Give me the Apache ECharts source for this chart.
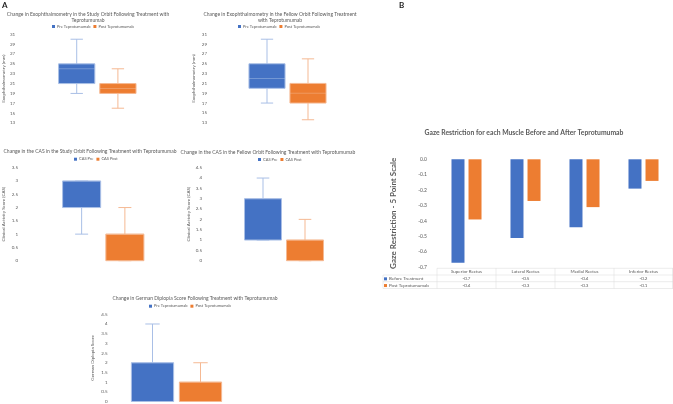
<!DOCTYPE html>
<html><head><meta charset="utf-8">
<script src="https://cdn.jsdelivr.net/npm/echarts@6/dist/echarts.min.js"></script>
<style>html,body{margin:0;padding:0;background:#fff}#c{width:673px;height:404px}</style>
</head><body><div id="c"></div>
<script>
// ---- data (min, q1, median, q3, max) ----
const exoStudyPre = [19, 21, 24, 25, 30];
const exoStudyPost = [16, 19, 20, 21, 24];
const exoFellowPre = [17, 20, 22, 25, 30];
const exoFellowPost = [13.6, 17, 19, 21, 26];
const casStudyPre = [1, 2, 3, 3, 3];
const casStudyPost = [0, 0, 1, 1, 2];
const casFellowPre = [1, 1, 3, 3, 4];
const casFellowPost = [0, 0, 1, 1, 2];
const gdsPre = [0, 0, 2, 2, 4];
const gdsPost = [0, 0, 1, 1, 2];

const muscles = ['Superior Rectus', 'Lateral Rectus', 'Medial Rectus', 'Inferior Rectus'];
const beforeTreatment = [-0.67, -0.51, -0.44, -0.19];
const postTeprotumumab = [-0.39, -0.27, -0.31, -0.14];

const FONT = 'Lato';
const GREY = '#595959';
const BLUE = '#4472C4', ORANGE = '#ED7D31';
const BLUE_L = '#a9bfe6', ORANGE_L = '#f5b993';

const panels = [
  { grid: {left: 52.5, top: 34.3, width: 86, height: 88.7}, y: {min: 13, max: 31, interval: 2},
    axisName: 'Exophthalmometry (mm)', margin: 41, nameGap: 49,
    names: ['Pre Teprotumumab', 'Post Teprotumumab'], data: [exoStudyPre, exoStudyPost],
    title: ['Change in Exophthalmometry in the Study Orbit Following Treatment with', 'Teprotumumab'],
    titleX: 88, titleY: 14, legendLeft: 52, legendY: 27 },
  { grid: {left: 246.5, top: 34.3, width: 82, height: 88.4}, y: {min: 13, max: 31, interval: 2},
    axisName: 'Exophthalmometry (mm)', margin: 39.5, nameGap: 50,
    names: ['Pre Teprotumumab', 'Post Teprotumumab'], data: [exoFellowPre, exoFellowPost],
    title: ['Change in Exophthalmometry in the Fellow Orbit Following Treatment', 'with Teprotumumab'],
    titleX: 280, titleY: 14.5, legendLeft: 238, legendY: 27 },
  { grid: {left: 56.5, top: 167.7, width: 90, height: 93}, y: {min: 0, max: 3.5, interval: 0.5},
    axisName: 'Clinical Activity Score (CAS)', margin: 42, nameGap: 54,
    names: ['CAS Pre', 'CAS Post'], data: [casStudyPre, casStudyPost],
    title: ['Change in the CAS in the Study Orbit Following Treatment with Teprotumumab'],
    titleX: 90, titleY: 151.7, legendLeft: 74, legendY: 159.7 },
  { grid: {left: 242, top: 167.7, width: 84, height: 93}, y: {min: 0, max: 4.5, interval: 0.5},
    axisName: 'Clinical Activity Score (CAS)', margin: 40, nameGap: 51,
    names: ['CAS Pre', 'CAS Post'], data: [casFellowPre, casFellowPost],
    title: ['Change in the CAS in the Fellow Orbit Following Treatment with Teprotumumab'],
    titleX: 268, titleY: 152, legendLeft: 258, legendY: 160 },
  { grid: {left: 128.5, top: 314.3, width: 96, height: 88}, y: {min: 0, max: 4.5, interval: 0.5},
    axisName: 'German Diplopia Score', margin: 21, nameGap: 33,
    names: ['Pre Teprotumumab', 'Post Teprotumumab'], data: [gdsPre, gdsPost],
    title: ['Change in German Diplopia Score Following Treatment with Teprotumumab'],
    titleX: 195, titleY: 298.7, legendLeft: 149, legendY: 306.7 }
];

function boxRender(light) {
  return function (params, api) {
    const c = api.value(0);
    const v = [1, 2, 3, 4, 5].map(i => api.value(i));
    const cw = api.size([1, 0])[0];
    const bw = cw * 0.88, capw = cw * 0.3;
    const p = v.map(val => api.coord([c, val]));
    const x = p[0][0];
    const ls = {stroke: light, lineWidth: 1};
    return {type: 'group', children: [
      {type: 'line', shape: {x1: x, y1: p[3][1], x2: x, y2: p[4][1]}, style: ls},
      {type: 'line', shape: {x1: x, y1: p[1][1], x2: x, y2: p[0][1]}, style: ls},
      {type: 'line', shape: {x1: x - capw / 2, y1: p[4][1], x2: x + capw / 2, y2: p[4][1]}, style: ls},
      {type: 'line', shape: {x1: x - capw / 2, y1: p[0][1], x2: x + capw / 2, y2: p[0][1]}, style: ls},
      {type: 'rect', shape: {x: x - bw / 2, y: p[3][1], width: bw, height: p[1][1] - p[3][1]},
        style: {fill: api.visual('color'), stroke: light, lineWidth: 1}},
      {type: 'line', shape: {x1: x - bw / 2, y1: p[2][1], x2: x + bw / 2, y2: p[2][1]}, style: {stroke: light, lineWidth: 0.8, opacity: 0.6}}
    ]};
  };
}

const grid = [], xAxis = [], yAxis = [], series = [], legend = [], graphic = [];
panels.forEach((pn, i) => {
  grid.push(pn.grid);
  xAxis.push({type: 'category', gridIndex: i, data: pn.names, show: false});
  yAxis.push({type: 'value', gridIndex: i, min: pn.y.min, max: pn.y.max, interval: pn.y.interval,
    splitLine: {show: false}, axisLine: {show: false}, axisTick: {show: false},
    axisLabel: {fontSize: 4.5, color: GREY, margin: pn.margin, fontFamily: FONT},
    name: pn.axisName, nameLocation: 'middle', nameRotate: 90, nameGap: pn.nameGap,
    nameTextStyle: {fontSize: 4.5, color: GREY, fontFamily: FONT}});
  pn.data.forEach((d, k) => {
    series.push({type: 'custom', name: pn.names[k], xAxisIndex: i, yAxisIndex: i,
      itemStyle: {color: k === 0 ? BLUE : ORANGE},
      renderItem: boxRender(k === 0 ? BLUE_L : ORANGE_L),
      data: [[k].concat(d)]});
  });
  legend.push({data: pn.names, left: pn.legendLeft, top: pn.legendY - 2.5, padding: 0,
    itemWidth: 3, itemHeight: 3, itemGap: 3, icon: 'rect',
    textStyle: {fontSize: 4, color: GREY, fontFamily: FONT, padding: [0, 0, 0, -3]}});
  pn.title.forEach((t, j) => {
    graphic.push({type: 'text', x: pn.titleX, y: pn.titleY + j * 6,
      style: {text: t, fontSize: 5, fill: GREY, fontFamily: FONT, align: 'center', verticalAlign: 'middle'}});
  });
});

// ---- Panel B ----
const GB = {left: 437, top: 159.3, width: 236, height: 108};
const gi = grid.length;
grid.push(GB);
xAxis.push({type: 'category', gridIndex: gi, data: muscles, position: 'bottom',
  axisLine: {show: false, onZero: false}, axisTick: {show: false},
  axisLabel: {interval: 0, margin: 1, fontFamily: FONT, fontSize: 4.5, color: GREY, lineHeight: 6.8,
    formatter: (v, idx) => v + '\n' + beforeTreatment[idx].toFixed(1) + '\n' + postTeprotumumab[idx].toFixed(1)}});
yAxis.push({type: 'value', gridIndex: gi, min: -0.7, max: 0, interval: 0.1,
  splitLine: {show: false}, axisLine: {show: false}, axisTick: {show: false},
  axisLabel: {fontSize: 5, color: GREY, margin: 10, fontFamily: FONT, formatter: v => v.toFixed(1)},
  name: 'Gaze Restriction - 5 Point Scale', nameLocation: 'middle', nameRotate: 90, nameGap: 40,
  nameTextStyle: {fontSize: 8, color: GREY, fontFamily: FONT, fontWeight: 'bold'}});
series.push({type: 'bar', name: 'Before Treatment', xAxisIndex: gi, yAxisIndex: gi, data: beforeTreatment,
  itemStyle: {color: BLUE}, barWidth: 13, barGap: '31%'});
series.push({type: 'bar', name: 'Post Teprotumumab', xAxisIndex: gi, yAxisIndex: gi, data: postTeprotumumab,
  itemStyle: {color: ORANGE}, barWidth: 13, barGap: '31%'});
legend.push({data: ['Before Treatment', 'Post Teprotumumab'], orient: 'vertical', left: 384, top: 276, padding: 0,
  itemWidth: 3, itemHeight: 3, itemGap: 1, icon: 'rect',
  textStyle: {fontSize: 4.5, color: GREY, fontFamily: FONT, lineHeight: 5.7, padding: [0, 0, 0, -3]}});

// table lines
const LC = '#d9d9d9';
const rowY = [GB.top + GB.height + 1, 275, 281.7, 288.5];
const cw = GB.width / muscles.length;
function hline(x1, x2, y) { graphic.push({type: 'line', shape: {x1, y1: y, x2, y2: y}, style: {stroke: LC, lineWidth: 0.5}}); }
function vline(x, y1, y2) { graphic.push({type: 'line', shape: {x1: x, y1, x2: x, y2}, style: {stroke: LC, lineWidth: 0.5}}); }
hline(GB.left, GB.left + GB.width, rowY[0]);
hline(383, GB.left + GB.width, rowY[1]);
hline(383, GB.left + GB.width, rowY[2]);
hline(383, GB.left + GB.width, rowY[3]);
for (let k = 0; k <= muscles.length; k++) vline(GB.left + k * cw - (k === muscles.length ? 0.5 : 0), rowY[0], rowY[3]);
vline(383, rowY[1], rowY[3]);

graphic.push({type: 'text', x: 524, y: 133, style: {text: 'Gaze Restriction for each Muscle Before and After Teprotumumab',
  fontSize: 6.8, fill: GREY, fontFamily: FONT, fontWeight: 'bold', align: 'center', verticalAlign: 'middle'}});
graphic.push({type: 'text', x: 2, y: 1, style: {text: 'A', fontSize: 8, fontWeight: 'bold', fill: '#222', fontFamily: FONT}});
graphic.push({type: 'text', x: 399, y: 1, style: {text: 'B', fontSize: 8, fontWeight: 'bold', fill: '#222', fontFamily: FONT}});

const chart = echarts.init(document.getElementById('c'), null, {renderer: 'canvas'});
chart.setOption({backgroundColor: '#fff', animation: false, grid, xAxis, yAxis, series, legend, graphic});
</script></body></html>
